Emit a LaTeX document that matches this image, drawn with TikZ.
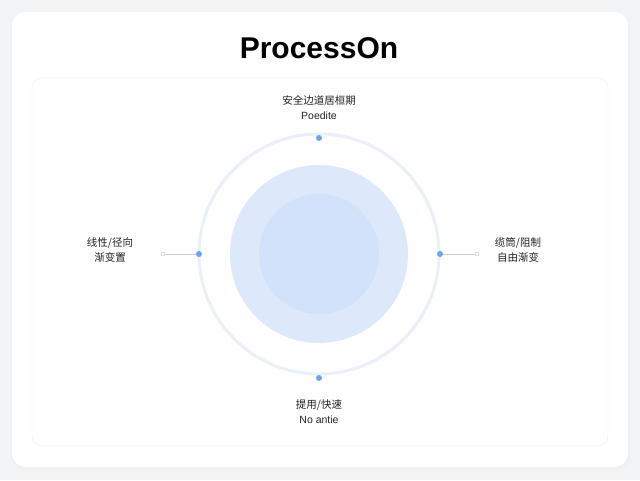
\documentclass[tikz,border=0pt]{standalone}
\usepackage{fontspec}
\setmainfont{Liberation Sans}
\newfontfamily\cjk{Noto Sans CJK SC}
\usetikzlibrary{positioning,calc}
\definecolor{bgGray}{HTML}{F2F3F5}
\definecolor{ringBlue}{HTML}{EAF0FA}
\definecolor{diskBlue}{HTML}{DEE8FB}
\definecolor{coreBlue}{HTML}{D3E2FB}
\definecolor{dotBlue}{HTML}{6FA3EE}
\definecolor{txtGray}{HTML}{222222}

\begin{document}
\begin{tikzpicture}[x=1pt, y=-1pt,
    lbl/.style={align=center, text=txtGray, font=\fontsize{10.5}{15}\selectfont},
    dot/.style={circle, fill=dotBlue, inner sep=0pt, minimum size=6pt},
    tip/.style={circle, draw=ringBlue!70!gray, fill=white, inner sep=0pt, minimum size=4pt, line width=0.6pt}]

    % canvas and card
    \fill[bgGray] (0,0) rectangle (640,480);
    \useasboundingbox (0,0) rectangle (640,480);
    \fill[black!6, rounded corners=14pt] (11,14) rectangle (630,470);
    \fill[white, rounded corners=14pt] (12,12) rectangle (628,467);
    \draw[black!7, rounded corners=10pt] (32,78) rectangle (608,446);

    \node[font=\bfseries\fontsize{30}{34}\selectfont] (title) at (319,48) {ProcessOn};

    % rings
    \coordinate (c) at (319,254);
    \draw[ringBlue, line width=3pt] (c) circle (120);
    \fill[diskBlue] (c) circle (89);
    \fill[coreBlue] (c) circle (60);

    % anchors
    \node[dot] (top) at (319,138) {};
    \node[dot] (bot) at (319,378) {};
    \node[dot] (lft) at (199,254) {};
    \node[dot] (rgt) at (440,254) {};
    \node[tip] (lend) at (163,254) {};
    \node[tip] (rend) at (477,254) {};
    \draw[ringBlue!70!gray, line width=0.8pt] (lend) -- (lft);
    \draw[ringBlue!70!gray, line width=0.8pt] (rgt) -- (rend);

    % labels
    \node[lbl] (ltop) at (319,108) {{\cjk 安全边道居桓期}\\Poedite};
    \node[lbl] (lbot) at (319,412) {{\cjk 提用/快速}\\No antie};
    \node[lbl] (llft) at (110,250) {{\cjk 线性/径向}\\{\cjk 渐变置}};
    \node[lbl] (lrgt) at (518,250) {{\cjk 缆筒/阻制}\\{\cjk 自由渐变}};
\end{tikzpicture}
\end{document}
